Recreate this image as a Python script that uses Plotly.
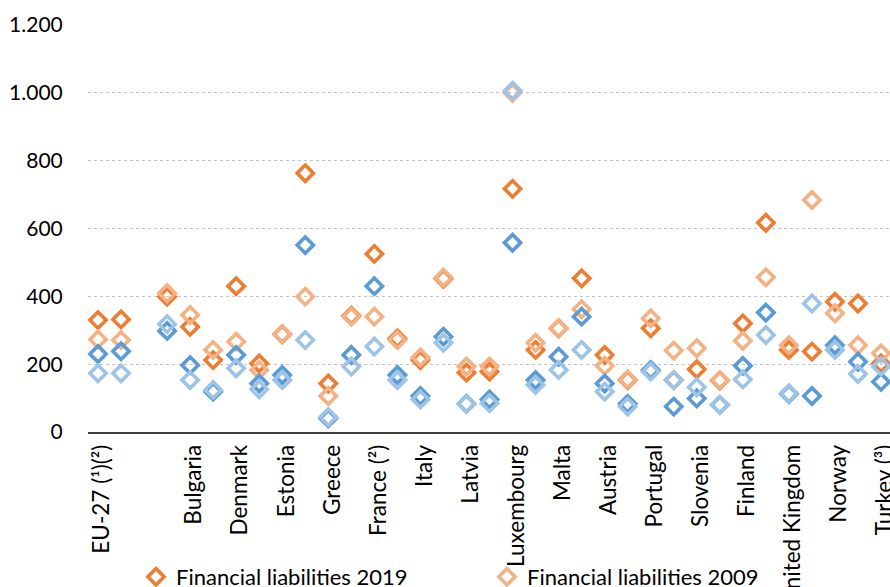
import plotly.graph_objects as go

# Countries / aggregates in display order (a blank slot separates the aggregates)
categories = [
    "EU-27 (¹)(²)", "EA-19", " ", "Belgium", "Bulgaria", "Czechia", "Denmark",
    "Germany", "Estonia", "Ireland", "Greece", "Spain", "France (²)", "Croatia",
    "Italy", "Cyprus", "Latvia", "Lithuania", "Luxembourg", "Hungary", "Malta",
    "Netherlands", "Austria", "Poland", "Portugal", "Romania", "Slovenia",
    "Slovakia", "Finland", "Sweden", "United Kingdom", "Iceland", "Norway",
    "Switzerland", "Turkey (³)",
]

# % of GDP
liabilities_2019 = [330, 332, None, 399, 310, 212, 430, 202, 288, 763, 143, 343, 525, 276,
                    212, 452, 175, 178, 717, 242, 305, 453, 227, 153, 306, 153, 185,
                    152, 320, 617, 242, 237, 384, 379, 202]
liabilities_2009 = [273, 271, None, 409, 345, 242, 266, 183, 289, 399, 106, 340, 340, 271,
                    220, 455, 193, 193, 1000, 263, 306, 362, 195, 155, 335, 240, 247,
                    153, 269, 456, 256, 684, 350, 256, 232]
assets_2019 = [230, 238, None, 298, 197, 119, 227, 143, 168, 551, 40, 227, 430, 168,
               106, 281, 83, 96, 558, 153, 222, 340, 143, 83, 183, 75, 99,
               80, 195, 352, 112, 106, 256, 207, 148]
assets_2009 = [173, 173, None, 318, 153, 124, 188, 126, 153, 271, 44, 193, 252, 153,
               96, 263, 83, 85, 1006, 139, 183, 242, 119, 75, 178, 153, 132,
               80, 155, 286, 114, 379, 242, 171, 193]

y_ticks = [0, 200, 400, 600, 800, 1000, 1200]

FONT = "Lato"
positions = list(range(len(categories)))
# only every second category gets a label
label_pos = positions[::2]
label_txt = categories[::2]

series = [
    ("Financial liabilities 2019", liabilities_2019, "#ED7D31", True),
    ("Financial liabilities 2009", liabilities_2009, "#F4B183", True),
    ("Financial assets 2019", assets_2019, "#5B9BD5", False),
    ("Financial assets 2009", assets_2009, "#9DC3E6", False),
]

fig = go.Figure()
for name, vals, color, show in series:
    fig.add_trace(go.Scatter(
        x=positions, y=vals, name=name, mode="markers",
        showlegend=show, cliponaxis=False,
        marker=dict(symbol="diamond-open", size=12.5, color=color,
                    line=dict(color=color, width=3.6)),
    ))

fig.update_layout(
    width=890, height=587,
    margin=dict(l=88, r=0, t=25, b=155, autoexpand=False),
    paper_bgcolor="white", plot_bgcolor="white",
    separators=",.",
    font=dict(family=FONT, size=21, color="#000000"),
    xaxis=dict(
        range=[-0.434, 34.39], tickmode="array", tickvals=label_pos, ticktext=label_txt,
        tickangle=-90, showgrid=False, zeroline=False,
        showline=True, linecolor="#404040", linewidth=1.6,
        ticks="", ticklabelstandoff=2, ticklabelshift=4,
        ticklabeloverflow="allow",
        tickfont=dict(family=FONT, size=22.5, color="#000000"),
    ),
    yaxis=dict(
        range=[0, 1200], tickmode="array", tickvals=y_ticks, tickformat=",d",
        showgrid=True, gridcolor="#c4c4c4", griddash="dot", gridwidth=1,
        zeroline=False, showline=False,
        ticks="outside", ticklen=20, tickcolor="rgba(0,0,0,0)",
        tickfont=dict(family=FONT, size=21, color="#000000"),
    ),
    legend=dict(
        orientation="h", x=(136 - 88) / 802, xanchor="left",
        y=(432 - 577) / 407, yanchor="middle",
        entrywidth=306, entrywidthmode="pixels", itemwidth=30,
        bgcolor="rgba(0,0,0,0)", font=dict(family=FONT, size=22, color="#000000"),
    ),
)

fig.write_html("out.html")
